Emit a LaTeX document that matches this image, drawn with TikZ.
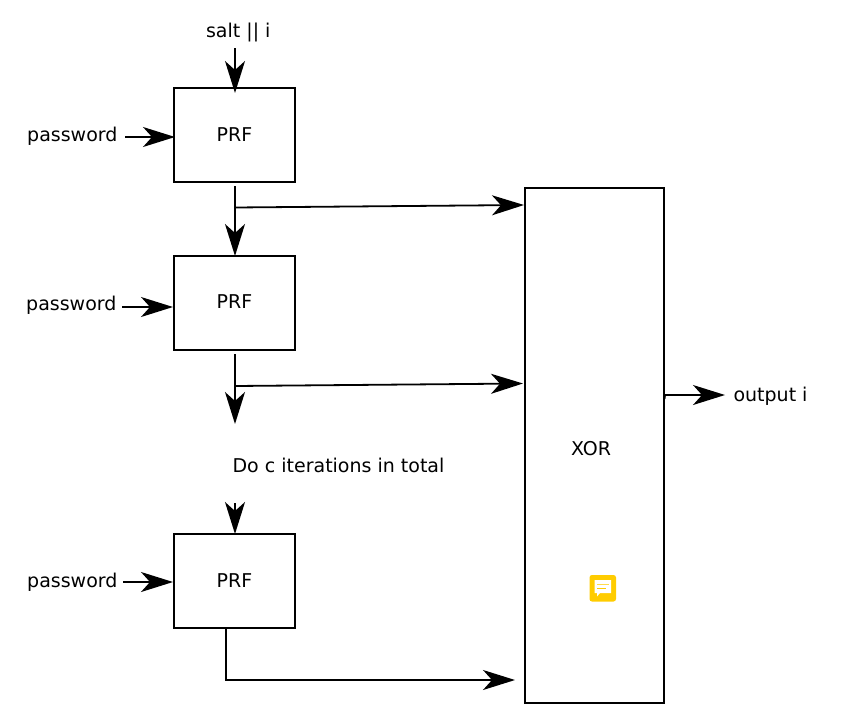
\documentclass[tikz,border=0pt]{standalone}
\usepackage{fontspec}
\setmainfont{DejaVu Sans}
\usetikzlibrary{arrows.meta}
\definecolor{noteyellow}{HTML}{FFCC00}
\tikzset{
  box/.style={draw=black,line width=1.8pt,minimum width=121pt,minimum height=94pt,inner sep=0pt,outer sep=0pt},
  lbl/.style={inner sep=0pt,font=\fontsize{19}{22}\selectfont,text=black},
  link/.style={draw=black,line width=1.8pt,-{Stealth[length=32pt,width=20pt,inset=9pt]}},
}
\begin{document}
\begin{tikzpicture}[x=1pt,y=-1pt]
\useasboundingbox (0,0) rectangle (842,715);
\node[box] (prf1) at (234.5,135) {};
\node[box] (prf2) at (234.5,303) {};
\node[box] (prf3) at (234.5,581) {};
\node[box,minimum width=139pt,minimum height=515pt] (xor) at (594.5,445.5) {};
\node[lbl] (prf1t) at (234.5,135) {PRF};
\node[lbl] (prf2t) at (234.5,302) {PRF};
\node[lbl] (prf3t) at (234.5,581) {PRF};
\node[lbl] (xort) at (591,449) {XOR};
\node[lbl] (salt) at (238.3,32.5) {salt || i};
\node[lbl] (pw1) at (72.3,136) {password};
\node[lbl] (pw2) at (71.3,305.5) {password};
\node[lbl] (pw3) at (72.3,582) {password};
\node[lbl] (iter) at (338.5,465.5) {Do c iterations in total};
\node[lbl] (out) at (770.5,396.5) {output i};
% free ends
\coordinate (s0) at (235,48);   \coordinate (s1) at (235,93);
\coordinate (p1a) at (125,137); \coordinate (p1b) at (175,137);
\coordinate (p2a) at (122,307); \coordinate (p2b) at (173,307);
\coordinate (p3a) at (123,582); \coordinate (p3b) at (173,582);
\coordinate (d1a) at (235,186); \coordinate (d1b) at (235,256);
\coordinate (d2a) at (235,354); \coordinate (d2b) at (235,424);
\coordinate (d3a) at (235,503); \coordinate (d3b) at (235,534);
\coordinate (b1a) at (235,207.5); \coordinate (b1b) at (524,205);
\coordinate (b2a) at (235,386); \coordinate (b2b) at (523,383.5);
\coordinate (c3a) at (226,628); \coordinate (c3m) at (226,680); \coordinate (c3b) at (515,680);
\coordinate (o00) at (664.5,399); \coordinate (o0) at (665,395);  \coordinate (o1) at (725,395);
\draw[link] (s0) -- (s1);
\draw[link] (p1a) -- (p1b);
\draw[link] (p2a) -- (p2b);
\draw[link] (p3a) -- (p3b);
\draw[link] (d1a) -- (d1b);
\draw[link] (d2a) -- (d2b);
\draw[link] (d3a) -- (d3b);
\draw[link] (b1a) -- (b1b);
\draw[link] (b2a) -- (b2b);
\draw[link] (c3a) -- (c3m) -- (c3b);
\draw[link] (o00) -- (o0) -- (o1);
% comment icon
\fill[noteyellow,rounded corners=2.5pt] (589.5,575) rectangle (616,601.5);
\fill[white] (594.5,580) -- (611,580) -- (611,593) -- (600,593) -- (597,596.5) -- (597,593) -- (594.5,593) -- cycle;
\fill[noteyellow!70] (597,584) rectangle (608.5,585);
\fill[noteyellow] (597,587.5) rectangle (605.5,588.8);
\end{tikzpicture}
\end{document}
